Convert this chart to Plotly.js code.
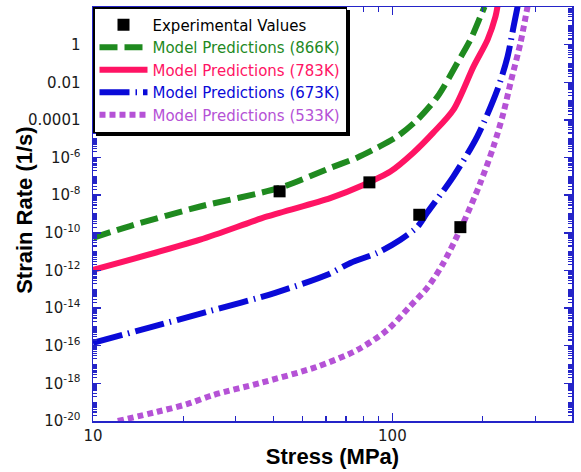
<!DOCTYPE html>
<html>
<head>
<meta charset="utf-8">
<script src="https://cdn.plot.ly/plotly-3.0.1.min.js"></script>
<style>
  html, body { margin: 0; padding: 0; background: #fff; }
  #chart { width: 581px; height: 472px; }
</style>
</head>
<body>
<div id="chart"></div>
<script>
// ---- Data ----
const expStress = [42.0, 83.8, 123, 168.7];
const expRate   = [1.6e-8, 4.8e-8, 9.1e-10, 2.0e-10];

const stress866 = [10, 13.3, 22.8, 42.2, 62.0, 76.2, 88.9, 103.7, 121, 141.4, 165, 182.4, 196.8, 203.2];
const rate866   = [5.4e-11, 2.3e-10, 2.5e-9, 2.5e-8, 2.8e-7, 9.8e-7, 3.3e-6, 1.3e-5, 1.0e-4, 1.7e-3, 0.11, 1.86, 31, 105];

const stress783 = [10, 22.8, 38.2, 62.0, 80.0, 98.5, 117.5, 137, 160, 186.6, 208, 221, 224.4];
const rate783   = [1.07e-12, 4.3e-11, 7.4e-10, 7.0e-9, 3.5e-8, 1.8e-7, 1.8e-6, 2.1e-5, 3.5e-4, 0.068, 1.86, 31, 105];

const stress673 = [10, 15.3, 24.2, 40.6, 60.6, 72.4, 89.1, 106.4, 121.2, 130.6, 160, 192, 224.4, 242.5, 254, 262];
const rate673   = [1.4e-16, 8.9e-16, 6.5e-15, 6.5e-14, 5.9e-13, 2.5e-12, 8.7e-12, 4.3e-11, 2.1e-10, 1.15e-9, 1.0e-7, 1.3e-5, 4.1e-3, 0.23, 9.1, 105];

const stress533 = [12.1, 16.4, 20.6, 25.2, 36.2, 55.7, 76.4, 96.2, 114, 131.5, 148.1, 172.6, 196.8, 217.7, 235, 248.2, 268, 282.8];
const rate533   = [1.0e-20, 3.1e-20, 7.9e-20, 2.4e-19, 1.05e-18, 7.4e-18, 6.0e-17, 6.9e-16, 1.15e-14, 1.35e-13, 2.5e-12, 3.4e-10, 4.6e-8, 3.9e-6, 2.4e-4, 9.5e-3, 1.3, 105];

const xTickVals = [10, 100];
const xTickText = ['10', '100'];
const yTickVals = [1e-20, 1e-18, 1e-16, 1e-14, 1e-12, 1e-10, 1e-8, 1e-6, 1e-4, 1e-2, 1];
const yTickText = ['10<sup>-20</sup>', '10<sup>-18</sup>', '10<sup>-16</sup>', '10<sup>-14</sup>',
                   '10<sup>-12</sup>', '10<sup>-10</sup>', '10<sup>-8</sup>', '10<sup>-6</sup>',
                   '0.0001', '0.01', '1'];
const xMinorVals = [20, 30, 40, 50, 60, 70, 80, 90, 200, 300];
const xTitle = 'Stress (MPa)';
const yTitle = 'Strain Rate (1/s)';

// ---- styles ----
const AXIS = '#2424c8';
const FONT = 'Liberation Sans, Arial, Helvetica, sans-serif';
const WIDE = 'DejaVu Sans, Liberation Sans, sans-serif';
const C866 = '#1f8a1f', C783 = '#ff1464', C673 = '#0a0ad8', C533 = '#b552d6';

const yMinorVals = [];
for (let k = -20; k <= 2; k++) {
  for (let m = 1; m <= 9; m++) {
    if (m === 1 && k % 2 === 0 && k <= 0) continue;
    yMinorVals.push(m * Math.pow(10, k));
  }
}

const traces = [
  { x: stress866, y: rate866, mode: 'lines', legendrank: 2,
    name: '<span style="color:' + C866 + '">Model Predictions (866K)</span>',
    line: { color: C866, width: 6, dash: '18px,7px', shape: 'spline', smoothing: 0.8 } },
  { x: stress783, y: rate783, mode: 'lines', legendrank: 3,
    name: '<span style="color:' + C783 + '">Model Predictions (783K)</span>',
    line: { color: C783, width: 6, dash: 'solid', shape: 'spline', smoothing: 0.8 } },
  { x: stress673, y: rate673, mode: 'lines', legendrank: 4,
    name: '<span style="color:' + C673 + '">Model Predictions (673K)</span>',
    line: { color: C673, width: 6, dash: '30px,6px,1.5px,6px', shape: 'spline', smoothing: 0.8 } },
  { x: stress533, y: rate533, mode: 'lines', legendrank: 5,
    name: '<span style="color:' + C533 + '">Model Predictions (533K)</span>',
    line: { color: C533, width: 6, dash: '6px,4px', shape: 'spline', smoothing: 0.8 } },
  { x: expStress, y: expRate, mode: 'markers', legendrank: 1,
    name: 'Experimental Values',
    marker: { symbol: 'square', size: 12, color: '#000' } }
];

const layout = {
  width: 581, height: 472,
  margin: { l: 93, r: 9, t: 7, b: 51 },
  paper_bgcolor: '#fff', plot_bgcolor: '#fff',
  font: { family: WIDE, color: '#1a1a1a', size: 15 },
  showlegend: true,
  legend: {
    x: 0, y: 1, xanchor: 'left', yanchor: 'top',
    bgcolor: '#fff', bordercolor: '#000', borderwidth: 1.5,
    font: { family: WIDE, size: 15, color: '#000' },
    itemwidth: 48, tracegroupgap: 0
  },
  xaxis: {
    type: 'log', range: [1, 2.6],
    tickmode: 'array', tickvals: xTickVals, ticktext: xTickText,
    ticks: 'inside', ticklen: 8, tickwidth: 1.5, tickcolor: AXIS,
    showline: true, linecolor: AXIS, linewidth: 1.5, mirror: 'ticks',
    showgrid: false, zeroline: false,
    tickfont: { family: WIDE, size: 15, color: '#1a1a1a' },
    minor: { tickmode: 'array', tickvals: xMinorVals, ticks: 'inside', ticklen: 5, tickwidth: 1.2, tickcolor: AXIS, showgrid: false },
    title: { text: '<b>' + xTitle + '</b>', font: { family: FONT, size: 22, color: '#000' }, standoff: 4 }
  },
  yaxis: {
    type: 'log', range: [-20, 2],
    tickmode: 'array', tickvals: yTickVals, ticktext: yTickText,
    ticks: 'inside', ticklen: 8, tickwidth: 1.5, tickcolor: AXIS,
    showline: true, linecolor: AXIS, linewidth: 1.5, mirror: 'ticks',
    showgrid: false, zeroline: false,
    tickfont: { family: WIDE, size: 15, color: '#1a1a1a' },
    ticklabelstandoff: 8,
    minor: { tickmode: 'array', tickvals: yMinorVals, ticks: 'inside', ticklen: 4, tickwidth: 1.2, tickcolor: AXIS, showgrid: false }
  },
  annotations: [{
    text: '<b>' + yTitle + '</b>', textangle: -90, showarrow: false,
    xref: 'paper', yref: 'paper', x: 0, y: 0.51, xanchor: 'center', yanchor: 'middle',
    xshift: -68, font: { family: FONT, size: 22, color: '#000' }
  }]
};

function addLegendShadow(gd) {
  try {
    const L = gd._fullLayout.legend;
    const fs = gd._fullLayout._size;
    let w = L && L._width, h = L && L._height;
    if (!(w > 0 && h > 0)) {
      const bb = gd.querySelector('g.legend rect.bg').getBBox();
      w = bb.width; h = bb.height;
    }
    const off = 3;
    return Plotly.relayout(gd, {
      shapes: [{
        type: 'rect', xref: 'paper', yref: 'paper', layer: 'above',
        x0: off / fs.w, x1: (w + off) / fs.w,
        y0: 1 - (h + off) / fs.h, y1: 1 - off / fs.h,
        fillcolor: '#000', line: { width: 0 }
      }]
    });
  } catch (e) { /* ignore */ }
}

Plotly.newPlot('chart', traces, layout, { displayModeBar: false, staticPlot: true })
  .then(addLegendShadow);
</script>
</body>
</html>
